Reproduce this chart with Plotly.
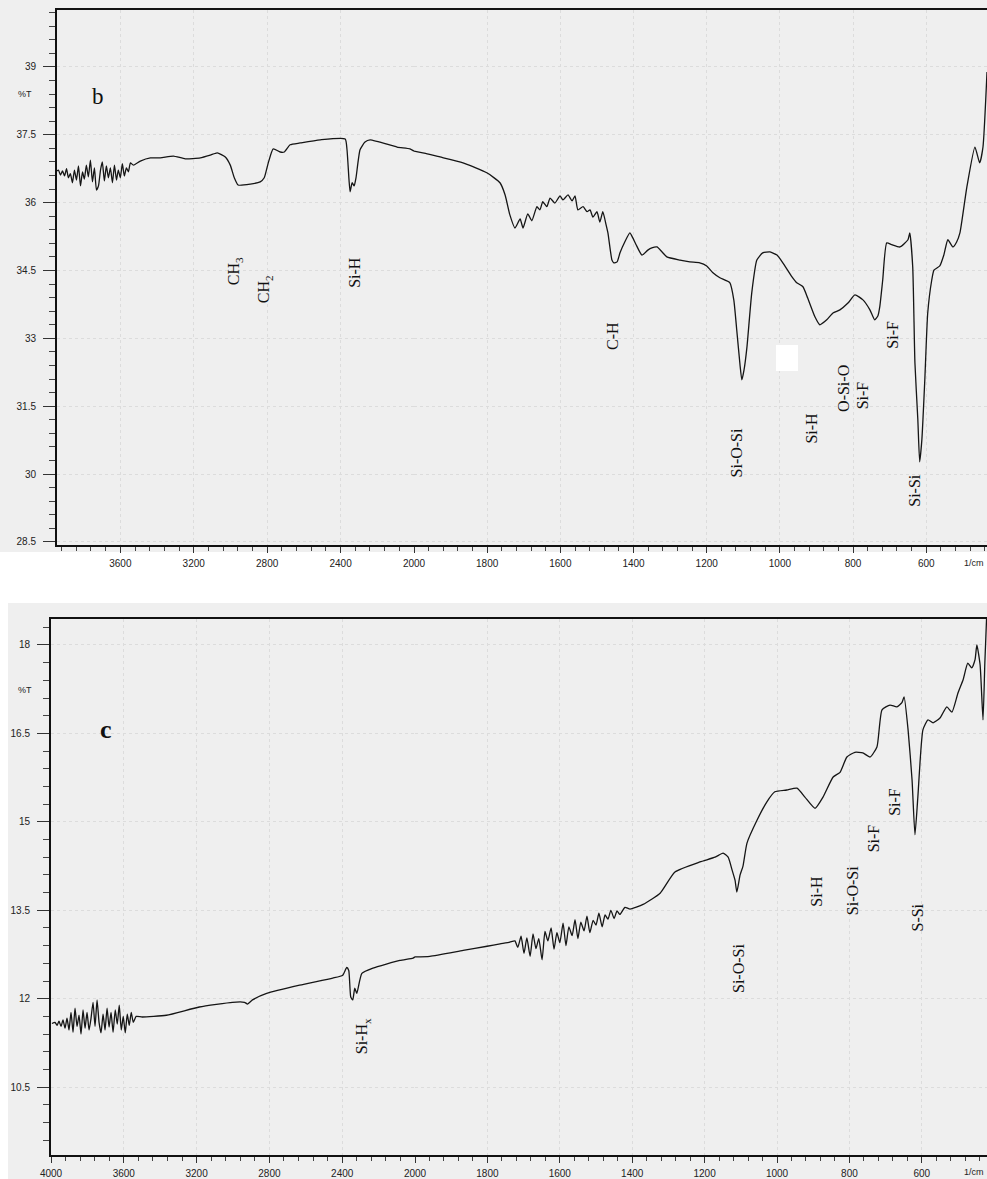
import plotly.graph_objects as go

# ---------------- DATA ----------------
# Panel b : wavenumber (1/cm) and transmittance (%T)
b_wavenumber = [
    3953, 3937, 3926, 3915, 3904, 3893, 3883, 3872, 3861, 3850,
    3839, 3828, 3817, 3806, 3796, 3785, 3774, 3763, 3752, 3741,
    3730, 3719, 3708, 3698, 3687, 3676, 3665, 3654, 3643, 3632,
    3621, 3611, 3600, 3589, 3578, 3567, 3556, 3545, 3529,
    3491, 3436, 3382, 3311, 3246, 3164, 3110, 3072, 3028, 3001,
    2979, 2958, 2892, 2838, 2816, 2794, 2767, 2729, 2707, 2675,
    2620, 2511, 2375, 2365, 2354, 2348, 2337, 2326, 2316, 2294,
    2267, 2239, 2092, 2022, 2000,
    1964, 1929, 1866, 1801, 1765, 1751, 1738, 1724, 1710, 1702,
    1689, 1678, 1664, 1656, 1648, 1637, 1628, 1615, 1601, 1593,
    1579, 1568, 1560, 1552, 1538, 1527, 1519, 1511, 1500, 1492,
    1484, 1475, 1470, 1459, 1454, 1445, 1437, 1424, 1410, 1402,
    1393, 1377, 1361, 1350, 1336, 1322, 1309, 1273, 1246, 1219,
    1200, 1183, 1164, 1137, 1126, 1118, 1109, 1104, 1098, 1090,
    1077, 1063, 1047, 1027, 1008, 992, 967, 954, 937, 924,
    904, 891, 872, 855, 836, 814, 795, 773, 754, 741,
    732, 727, 719, 708, 694, 672, 650, 645, 637, 631,
    623, 618, 612, 604, 596, 585, 579, 563, 552, 541,
    527, 517, 508, 489, 467, 454, 445, 434,
]
b_transmittance = [
    36.68, 36.72, 36.61, 36.70, 36.59, 36.75, 36.55, 36.64, 36.44, 36.72,
    36.50, 36.81, 36.37, 36.68, 36.52, 36.83, 36.57, 36.94, 36.46, 36.77,
    36.28, 36.37, 36.72, 36.90, 36.48, 36.81, 36.55, 36.77, 36.44, 36.83,
    36.50, 36.72, 36.55, 36.86, 36.59, 36.77, 36.68, 36.88, 36.83,
    36.92, 36.99, 36.99, 37.03, 36.97, 36.99, 37.05, 37.10, 37.01, 36.83,
    36.55, 36.39, 36.41, 36.46, 36.55, 36.88, 37.19, 37.12, 37.12, 37.28,
    37.32, 37.39, 37.41, 37.17, 36.50, 36.24, 36.44, 36.37, 36.55, 37.17,
    37.34, 37.39, 37.23, 37.19, 37.14,
    37.08, 37.01, 36.88, 36.66, 36.44, 36.17, 35.73, 35.44, 35.64, 35.44,
    35.75, 35.60, 35.91, 35.84, 36.02, 35.91, 36.10, 35.99, 36.15, 36.06,
    36.17, 36.04, 36.15, 35.84, 35.91, 35.80, 35.84, 35.68, 35.80, 35.57,
    35.80, 35.51, 35.33, 34.73, 34.67, 34.69, 34.89, 35.13, 35.33, 35.22,
    35.07, 34.84, 34.95, 35.00, 35.02, 34.91, 34.80, 34.73, 34.69, 34.67,
    34.60, 34.45, 34.34, 34.23, 33.85, 33.19, 32.41, 32.08, 32.30, 32.81,
    34.00, 34.73, 34.89, 34.91, 34.84, 34.67, 34.36, 34.23, 34.14, 33.89,
    33.47, 33.30, 33.41, 33.56, 33.63, 33.78, 33.96, 33.85, 33.63, 33.41,
    33.50, 33.70, 34.29, 35.11, 35.07, 35.02, 35.18, 35.33, 34.58, 32.46,
    31.20, 30.27, 30.76, 32.08, 33.56, 34.29, 34.51, 34.60, 34.84, 35.18,
    35.02, 35.13, 35.33, 36.35, 37.23, 36.88, 37.23, 38.89,
]

# Panel c : wavenumber (1/cm) and transmittance (%T)
c_wavenumber = [
    3995, 3978, 3967, 3956, 3945, 3934, 3923, 3912, 3901, 3890,
    3879, 3868, 3857, 3846, 3835, 3824, 3813, 3802, 3791, 3780,
    3769, 3758, 3747, 3736, 3725, 3714, 3703, 3692, 3681, 3670,
    3659, 3647, 3636, 3625, 3614, 3603, 3592, 3581, 3570, 3559,
    3548, 3532, 3499,
    3366, 3185, 3003, 2937, 2920, 2893, 2815, 2634, 2452, 2397,
    2375, 2364, 2353, 2342, 2331, 2320, 2292, 2231, 2083, 2011, 2000,
    1959, 1867, 1801, 1765, 1738,
    1724, 1716, 1707, 1699, 1691, 1682, 1674, 1666, 1658, 1649,
    1641, 1633, 1624, 1616, 1608, 1600, 1591, 1583, 1575, 1566,
    1558, 1550, 1542, 1533, 1525, 1517, 1508, 1500, 1492, 1483,
    1475, 1467, 1459, 1450, 1442, 1434, 1420, 1406, 1370, 1323,
    1282, 1213, 1171, 1149, 1135, 1124, 1116, 1111, 1102, 1094,
    1083, 1055, 1028, 1006, 973, 945, 923, 895, 873, 845,
    826, 807, 785, 763, 743, 724, 710, 688, 669, 655,
    649, 638, 627, 619, 611, 597, 583, 569, 550, 531,
    517, 500, 486, 473, 462, 453, 448, 439, 431, 426,
    420,
]
c_transmittance = [
    11.58, 11.60, 11.55, 11.62, 11.53, 11.64, 11.50, 11.67, 11.47, 11.77,
    11.43, 11.84, 11.53, 11.72, 11.40, 11.81, 11.50, 11.77, 11.47, 11.67,
    11.94, 11.53, 11.98, 11.60, 11.42, 11.74, 11.47, 11.84, 11.52, 11.77,
    11.43, 11.81, 11.57, 11.89, 11.47, 11.70, 11.42, 11.74, 11.55, 11.77,
    11.60, 11.70, 11.69,
    11.72, 11.86, 11.94, 11.94, 11.91, 11.98, 12.09, 12.23, 12.35, 12.40,
    12.53, 12.48, 12.03, 11.98, 12.18, 12.09, 12.43, 12.52, 12.65, 12.69, 12.71,
    12.72, 12.82, 12.89, 12.93, 12.96,
    12.98, 12.87, 13.06, 12.77, 13.03, 12.72, 13.10, 12.85, 13.02, 12.66,
    13.14, 12.98, 13.20, 12.84, 13.12, 12.95, 13.28, 12.90, 13.22, 13.07,
    13.34, 13.02, 13.30, 13.15, 13.40, 13.12, 13.33, 13.25, 13.45, 13.22,
    13.42, 13.35, 13.50, 13.36, 13.49, 13.43, 13.55, 13.52, 13.60, 13.79,
    14.15, 14.32, 14.40, 14.47, 14.40, 14.18, 14.01, 13.81, 14.10, 14.25,
    14.64, 15.03, 15.34, 15.51, 15.54, 15.57, 15.42, 15.23, 15.42, 15.76,
    15.84, 16.10, 16.18, 16.17, 16.10, 16.27, 16.90, 16.98, 16.95, 17.02,
    17.12, 16.56, 15.71, 14.78, 15.42, 16.56, 16.73, 16.68, 16.76, 16.95,
    16.86, 17.19, 17.41, 17.69, 17.61, 17.75, 18.00, 17.66, 16.73, 17.69,
    18.64,
]

# Axis ticks (the x axis changes scale at 2000 1/cm)
x_ticks_high = [3600, 3200, 2800, 2400]
x_ticks_low = [2000, 1800, 1600, 1400, 1200, 1000, 800, 600]
x_ticks_high_c = [4000, 3600, 3200, 2800, 2400]

# Peak assignments
b_labels = ["CH<sub>3</sub>", "CH<sub>2</sub>", "Si-H", "C-H", "Si-O-Si",
            "Si-H", "O-Si-O", "Si-F", "Si-F", "Si-Si"]
b_label_wn = [2974, 2816, 2321, 1459, 1118, 913, 828, 774, 691, 631]
b_label_T = [34.49, 34.09, 34.45, 33.05, 30.47, 31.02, 31.90, 31.73, 33.08, 29.65]

c_labels = ["Si-H<sub>x</sub>", "Si-O-Si", "Si-H", "Si-O-Si", "Si-F", "Si-F", "S-Si"]
c_label_wn = [2287, 1108, 890, 793, 735, 674, 613]
c_label_T = [11.36, 12.52, 13.83, 13.84, 14.72, 15.34, 13.38]

# ---------------- FIGURE ----------------
W, H = 987, 1179
BG = "#efefef"
LINE = "#151515"
SERIF = "Liberation Serif, Times New Roman, serif"
SANS = "Liberation Sans, Arial, sans-serif"


def fx(p):
    return p / W


def fy(p):
    return 1 - p / H


def split(w, t):
    hi = [(a, b) for a, b in zip(w, t) if a >= 2000]
    lo = [(a, b) for a, b in zip(w, t) if a <= 2000]
    return ([a for a, _ in hi], [b for _, b in hi]), ([a for a, _ in lo], [b for _, b in lo])


fig = go.Figure()

(b_hi, b_lo) = split(b_wavenumber, b_transmittance)
(c_hi, c_lo) = split(c_wavenumber, c_transmittance)

for (xs, ys), xa, ya in [(b_hi, "x", "y"), (b_lo, "x2", "y"),
                         (c_hi, "x3", "y2"), (c_lo, "x4", "y2")]:
    fig.add_trace(go.Scatter(x=xs, y=ys, xaxis=xa, yaxis=ya, mode="lines",
                             line=dict(color=LINE, width=1.3, shape="spline", smoothing=0.5),
                             cliponaxis=True, showlegend=False, hoverinfo="skip"))


def xaxis(domain, rng, tickvals, minor_dtick, anchor):
    return dict(domain=domain, range=rng, anchor=anchor, automargin=False,
                tickmode="array", tickvals=tickvals,
                ticks="outside", ticklen=6, tickwidth=1, tickcolor="#333",
                showline=True, linecolor="#111", linewidth=2, mirror=True,
                showgrid=True, gridcolor="#dcdcdc", griddash="dot", gridwidth=1,
                zeroline=False, ticklabelstandoff=2,
                tickfont=dict(family=SANS, size=10, color="#222"),
                minor=dict(dtick=minor_dtick, tick0=0, ticks="outside",
                           ticklen=4, tickwidth=1, tickcolor="#444", showgrid=False),
                fixedrange=True)


def yaxis(domain, rng, anchor):
    return dict(domain=domain, range=rng, anchor=anchor, automargin=False,
                tickmode="linear", tick0=0, dtick=1.5,
                ticks="outside", ticklen=12, tickwidth=1, tickcolor="#333",
                showline=True, linecolor="#111", linewidth=2,
                showgrid=True, gridcolor="#dcdcdc", griddash="dot", gridwidth=1,
                zeroline=False, ticklabelstandoff=5,
                tickfont=dict(family=SANS, size=10, color="#222"),
                minor=dict(dtick=0.3, tick0=0, ticks="outside", ticklen=6,
                           tickwidth=1, tickcolor="#444", showgrid=False),
                fixedrange=True)


# pixel geometry of the two scanned panels
b_left, b_split, b_top, b_bottom = 57, 414, 10, 545
c_left, c_split, c_top, c_bottom = 51, 415, 619, 1155

fig.update_layout(
    width=W, height=H,
    margin=dict(l=0, r=0, t=0, b=0, autoexpand=False),
    paper_bgcolor="white", plot_bgcolor=BG,
    showlegend=False,
    xaxis=xaxis([fx(b_left), fx(b_split)], [3945, 2000], x_ticks_high, 80, "y"),
    xaxis2=xaxis([fx(b_split), 1], [2000, 434], x_ticks_low, 40, "y"),
    yaxis=yaxis([fy(b_bottom), fy(b_top)], [28.43, 40.26], "x"),
    xaxis3=xaxis([fx(c_left), fx(c_split)], [4000, 2000], x_ticks_high_c, 80, "y2"),
    xaxis4=xaxis([fx(c_split), 1], [2000, 420], x_ticks_low, 40, "y2"),
    yaxis2=yaxis([fy(c_bottom), fy(c_top)], [9.35, 18.44], "x3"),
)

# scanned-page grey backgrounds and a small white scan artefact
shapes = [
    dict(type="rect", xref="paper", yref="paper", x0=0, x1=1, y0=fy(552), y1=1,
         fillcolor=BG, line=dict(width=0), layer="below"),
    dict(type="rect", xref="paper", yref="paper", x0=fx(8), x1=1, y0=0, y1=fy(603),
         fillcolor=BG, line=dict(width=0), layer="below"),
    dict(type="rect", xref="paper", yref="paper", x0=fx(776), x1=fx(798),
         y0=fy(371), y1=fy(345), fillcolor="white", line=dict(width=0), layer="above"),
]
fig.update_layout(shapes=shapes)

ann = []
for txt, wn, t in zip(b_labels, b_label_wn, b_label_T):
    ann.append(dict(text=txt, x=wn, y=t, xref="x" if wn >= 2000 else "x2", yref="y",
                    textangle=-90, showarrow=False, xanchor="center", yanchor="middle",
                    font=dict(family=SERIF, size=16, color="#111")))
for txt, wn, t in zip(c_labels, c_label_wn, c_label_T):
    ann.append(dict(text=txt, x=wn, y=t, xref="x3" if wn >= 2000 else "x4", yref="y2",
                    textangle=-90, showarrow=False, xanchor="center", yanchor="middle",
                    font=dict(family=SERIF, size=16, color="#111")))

# panel letters
ann.append(dict(text="b", x=3719, y=38.34, xref="x", yref="y", showarrow=False,
                xanchor="center", yanchor="middle",
                font=dict(family=SERIF, size=23, color="#111")))
ann.append(dict(text="<b>c</b>", x=3697, y=16.56, xref="x3", yref="y2", showarrow=False,
                xanchor="center", yanchor="middle",
                font=dict(family=SERIF, size=26, color="#111")))

# %T axis captions and 1/cm unit labels
for ypx in (94, 690):
    ann.append(dict(text="%T", x=fx(25), y=fy(ypx), xref="paper", yref="paper",
                    showarrow=False, xanchor="center", yanchor="middle",
                    font=dict(family=SANS, size=9, color="#222")))
for ypx in (563, 1172):
    ann.append(dict(text="1/cm", x=fx(986), y=fy(ypx), xref="paper", yref="paper",
                    showarrow=False, xanchor="right", yanchor="middle",
                    font=dict(family=SANS, size=9, color="#222")))

fig.update_layout(annotations=ann)

fig.write_html("out.html",
               config={"displayModeBar": False},
               post_script="document.body.style.margin='0';document.body.style.overflow='hidden';")
